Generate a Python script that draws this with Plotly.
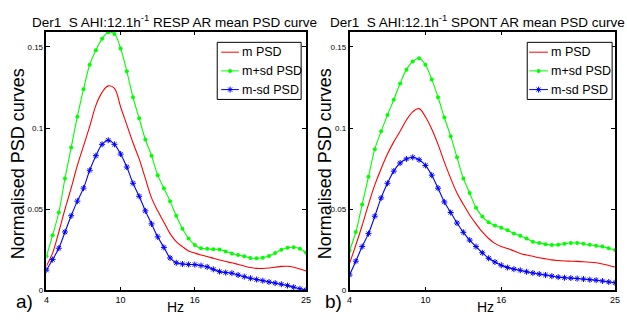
import plotly.graph_objects as go

# ---------------- data ----------------
freq = [4 + 0.5 * i for i in range(43)]  # Hz, 4 .. 25

resp_m = [0.015, 0.023, 0.036, 0.050, 0.063, 0.077, 0.089, 0.101, 0.114, 0.122,
          0.126, 0.1245, 0.113, 0.102, 0.091, 0.081, 0.069, 0.057, 0.049, 0.042,
          0.035, 0.030, 0.027, 0.0243, 0.023, 0.0218, 0.0209, 0.0198, 0.0187, 0.0178,
          0.0170, 0.0160, 0.0150, 0.0141, 0.0136, 0.0135, 0.0138, 0.0143, 0.0148, 0.0149,
          0.0143, 0.0132, 0.0120]
resp_p = [0.021, 0.034, 0.048, 0.069, 0.088, 0.107, 0.124, 0.139, 0.148, 0.155,
          0.159, 0.158, 0.149, 0.135, 0.119, 0.106, 0.093, 0.083, 0.071, 0.063,
          0.055, 0.046, 0.038, 0.032, 0.028, 0.026, 0.0256, 0.0254, 0.0252, 0.024,
          0.0228, 0.0218, 0.021, 0.020, 0.0198, 0.0201, 0.0212, 0.023, 0.025, 0.0263,
          0.0266, 0.0256, 0.0232]
resp_n = [0.0125, 0.019, 0.026, 0.036, 0.046, 0.055, 0.063, 0.074, 0.083, 0.090,
          0.0925, 0.090, 0.084, 0.076, 0.066, 0.058, 0.049, 0.041, 0.033, 0.0265,
          0.020, 0.017, 0.0163, 0.016, 0.0159, 0.0153, 0.0145, 0.013, 0.0116, 0.011,
          0.0106, 0.0095, 0.0085, 0.0075, 0.0067, 0.006, 0.0052, 0.0045, 0.0038, 0.003,
          0.002, 0.001, 0.0003]

spont_m = [0.0165, 0.028, 0.040, 0.053, 0.065, 0.075, 0.084, 0.0915, 0.098, 0.105,
           0.110, 0.112, 0.107, 0.0995, 0.090, 0.079, 0.069, 0.060, 0.053, 0.0465,
           0.041, 0.036, 0.032, 0.029, 0.027, 0.0258, 0.0243, 0.0228, 0.0218, 0.021,
           0.0201, 0.0195, 0.0188, 0.0184, 0.0181, 0.018, 0.0179, 0.0177, 0.0174, 0.017,
           0.0163, 0.0154, 0.0144]
spont_p = [0.0245, 0.036, 0.053, 0.070, 0.087, 0.098, 0.108, 0.1175, 0.1275, 0.136,
           0.141, 0.143, 0.139, 0.130, 0.119, 0.1065, 0.095, 0.082, 0.069, 0.060,
           0.051, 0.0455, 0.042, 0.040, 0.0386, 0.037, 0.035, 0.0337, 0.032, 0.030,
           0.0292, 0.0285, 0.028, 0.0282, 0.0288, 0.0292, 0.0292, 0.0288, 0.0282, 0.0275,
           0.027, 0.026, 0.0249]
spont_n = [0.0095, 0.018, 0.027, 0.035, 0.0457, 0.057, 0.066, 0.0735, 0.0785, 0.081,
           0.082, 0.0805, 0.077, 0.071, 0.063, 0.0545, 0.048, 0.0415, 0.0358, 0.031,
           0.027, 0.0232, 0.0198, 0.0175, 0.0155, 0.0141, 0.0131, 0.0124, 0.0115, 0.0107,
           0.0101, 0.0095, 0.0088, 0.0082, 0.0078, 0.0076, 0.0073, 0.007, 0.0066, 0.0063,
           0.0058, 0.0052, 0.0047]

x_ticks = [4, 10, 16, 25]
y_ticks = [0, 0.05, 0.1, 0.15]
y_tick_text = ["0", "0.05", "0.1", "0.15"]
series_names = ["m PSD", "m+sd PSD", "m-sd PSD"]
titles = ["Der1  S AHI:12.1h<sup>-1</sup> RESP AR mean PSD curve",
          "Der1  S AHI:12.1h<sup>-1</sup> SPONT AR mean PSD curve"]

# ---------------- figure ----------------
W, H = 627, 322
FONT = "Liberation Sans, Arial, sans-serif"
RED, GREEN, BLUE = "#ff0000", "#00ff00", "#0000ff"


def px(x):
    return x / W


def py(y):
    return 1 - y / H


fig = go.Figure()

panels = [("x", "y", resp_m, resp_p, resp_n), ("x2", "y2", spont_m, spont_p, spont_n)]
for xa, ya, m, p, n in panels:
    fig.add_trace(go.Scatter(x=freq, y=m, xaxis=xa, yaxis=ya, mode="lines",
                             line=dict(color=RED, width=1.1, shape="spline"),
                             name=series_names[0], showlegend=False))
    fig.add_trace(go.Scatter(x=freq, y=p, xaxis=xa, yaxis=ya, mode="lines+markers",
                             line=dict(color=GREEN, width=1.1, shape="spline"),
                             marker=dict(symbol="circle", size=4, color=GREEN),
                             name=series_names[1], showlegend=False))
    fig.add_trace(go.Scatter(x=freq, y=n, xaxis=xa, yaxis=ya, mode="lines+markers",
                             line=dict(color=BLUE, width=1.1, shape="spline"),
                             marker=dict(symbol="asterisk-open", size=5,
                                         line=dict(color=BLUE, width=1)),
                             name=series_names[2], showlegend=False))

xaxis_common = dict(range=[4, 25], tickvals=x_ticks, ticktext=[str(t) for t in x_ticks],
                    ticks="inside", ticklen=4, tickcolor="black", showline=True,
                    linecolor="black", linewidth=1.5, mirror="ticks", showgrid=False,
                    zeroline=False, tickfont=dict(family=FONT, size=9, color="black"))
yaxis_common = dict(range=[0, 0.1595], tickvals=y_ticks, ticktext=y_tick_text,
                    ticks="inside", ticklen=4, tickcolor="black", showline=True,
                    linecolor="black", linewidth=1.5, mirror="ticks", showgrid=False,
                    zeroline=False, tickfont=dict(family=FONT, size=8, color="black"))

ydom = [py(295), py(32)]
fig.update_layout(
    width=W, height=H, margin=dict(l=0, r=0, t=0, b=0),
    paper_bgcolor="white", plot_bgcolor="white", showlegend=False,
    xaxis=dict(domain=[px(44), px(307)], anchor="y", **xaxis_common),
    yaxis=dict(domain=ydom, anchor="x", **yaxis_common),
    xaxis2=dict(domain=[px(351), px(620)], anchor="y2", **xaxis_common),
    yaxis2=dict(domain=ydom, anchor="x2", **yaxis_common),
)

ann = []
# titles
for cx, t in [(174, titles[0]), (481, titles[1])]:
    ann.append(dict(x=px(cx), y=py(21), xref="paper", yref="paper", text=t,
                    showarrow=False, xanchor="center", yanchor="middle",
                    font=dict(family=FONT, size=13.5, color="black")))
# y titles
for cx in [16, 327]:
    ann.append(dict(x=px(cx), y=py(166), xref="paper", yref="paper",
                    text="Normalised PSD curves", textangle=-90, showarrow=False,
                    xanchor="center", yanchor="middle",
                    font=dict(family=FONT, size=18, color="black")))
# x titles
for cx in [175, 489]:
    ann.append(dict(x=px(cx), y=py(312), xref="paper", yref="paper", text="Hz",
                    showarrow=False, xanchor="center", yanchor="middle",
                    font=dict(family=FONT, size=14, color="black")))
# panel letters
for cx, t in [(22, "a)"), (335, "b)")]:
    ann.append(dict(x=px(cx), y=py(306), xref="paper", yref="paper", text=t,
                    showarrow=False, xanchor="center", yanchor="middle",
                    font=dict(family=FONT, size=19, color="black")))

# manual legends (box, line samples, markers, labels)
shapes = []
for bx0, bx1, lx0, lx1, tx in [(217, 302, 221, 239, 240), (531, 617, 533, 552, 553)]:
    shapes.append(dict(type="rect", xref="paper", yref="paper", x0=px(bx0), x1=px(bx1),
                       y0=py(101), y1=py(43), line=dict(color="black", width=1),
                       fillcolor="white", layer="above"))
    for yy, col, name in [(53, RED, series_names[0]), (72, GREEN, series_names[1]),
                          (91, BLUE, series_names[2])]:
        shapes.append(dict(type="line", xref="paper", yref="paper", x0=px(lx0), x1=px(lx1),
                           y0=py(yy), y1=py(yy), line=dict(color=col, width=1), layer="above"))
        mx = px((lx0 + lx1) / 2)
        if col == GREEN:
            shapes.append(dict(type="circle", xref="paper", yref="paper",
                               xsizemode="pixel", ysizemode="pixel", xanchor=mx, yanchor=py(yy),
                               x0=-2, x1=2, y0=-2, y1=2, fillcolor=GREEN,
                               line=dict(color=GREEN, width=0), layer="above"))
        if col == BLUE:
            for (a0, b0, a1, b1) in [(-3, 0, 3, 0), (0, -3, 0, 3), (-2, -2, 2, 2), (-2, 2, 2, -2)]:
                shapes.append(dict(type="line", xref="paper", yref="paper",
                                   xsizemode="pixel", ysizemode="pixel", xanchor=mx,
                                   yanchor=py(yy), x0=a0, x1=a1, y0=b0, y1=b1,
                                   line=dict(color=BLUE, width=1), layer="above"))
        ann.append(dict(x=px(tx), y=py(yy), xref="paper", yref="paper", text=name,
                        showarrow=False, xanchor="left", yanchor="middle",
                        font=dict(family=FONT, size=12.5, color="black")))

fig.update_layout(annotations=ann, shapes=shapes)
fig.write_html("out.html")
